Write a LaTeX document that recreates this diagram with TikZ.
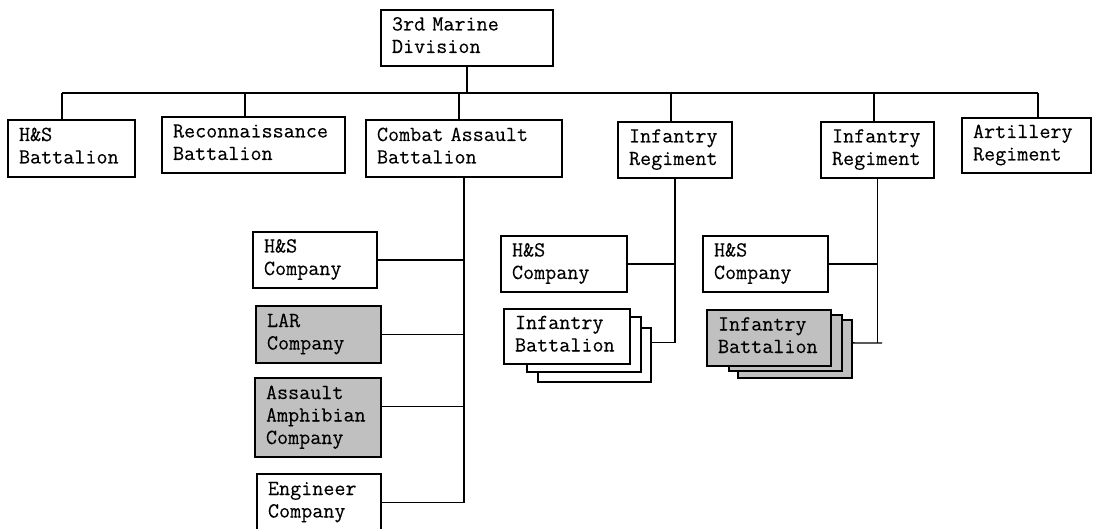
\documentclass[tikz,border=0pt]{standalone}
\usepackage{fontspec}
\newfontfamily\boxfont[FakeBold=0.2]{Latin Modern Mono}
\usetikzlibrary{calc}
\definecolor{boxgray}{RGB}{192,192,192}
\tikzset{
  orgbox/.style={draw=black, line width=1.3pt, fill=white, align=left,
    inner xsep=11pt, inner ysep=0pt, text height=13pt, text depth=28pt,
    font=\boxfont\fontsize{21.5pt}{22.5pt}\selectfont},
  threeline/.style={text depth=50pt},
  shaded/.style={fill=boxgray},
  thickline/.style={line width=2.6pt},
  busline/.style={line width=1.6pt},
  thinline/.style={line width=1.3pt}
}
\newcommand{\orgnode}[7][]{%
  % #1 extra opts, #2 name, #3 left, #4 right, #5 top, #6 bottom, #7 text
  \pgfmathsetmacro{\cxx}{(#3+#4)/2}%
  \pgfmathsetmacro{\cyy}{(#5+#6)/2}%
  \pgfmathsetmacro{\ww}{#4-#3-22}%
  \pgfmathsetmacro{\hh}{#6-#5}%
  \node[orgbox, text width=\ww pt, minimum height=\hh pt, #1] (#2) at (\cxx,\cyy) {#7};%
}
\begin{document}
\begin{tikzpicture}[x=1pt,y=-1pt]
\useasboundingbox[fill=white] (0,0) rectangle (1094,529);

% top level
\orgnode{div}{381}{553}{10}{66}{3rd Marine\\Division}
\orgnode{hsb}{8}{135}{120}{177}{H\&S\\Battalion}
\orgnode{rec}{162}{345}{117}{173}{Reconnaissance\\Battalion}
\orgnode{cab}{366}{562}{120}{177}{Combat Assault\\Battalion}
\orgnode{ir1}{618}{732}{122}{178}{Infantry\\Regiment}
\orgnode{ir2}{821}{934}{122}{178}{Infantry\\Regiment}
\orgnode{art}{962}{1091}{118}{173}{Artillery\\Regiment}

% combat assault battalion companies
\orgnode{hsc1}{253}{377}{232}{288}{H\&S\\Company}
\orgnode[shaded]{lar}{256}{381}{306}{363}{LAR\\Company}
\orgnode[shaded,threeline]{aac}{255}{381}{378}{457}{Assault\\Amphibian\\Company}
\orgnode{eng}{257}{381}{474}{531}{Engineer\\Company}

% infantry regiment 1
\orgnode{hsc2}{501}{627}{236}{292}{H\&S\\Company}
\orgnode{ibac}{538}{651}{328}{382}{}
\orgnode{ibab}{527}{641}{317}{372}{}
\orgnode{iba}{504}{630}{309}{364}{Infantry\\Battalion}

% infantry regiment 2
\orgnode{hsc3}{703}{828}{236}{292}{H\&S\\Company}
\orgnode[shaded]{ibbc}{738}{852}{320}{378}{}
\orgnode[shaded]{ibbb}{729}{842}{315}{371}{}
\orgnode[shaded]{ibb}{707}{831}{310}{366}{Infantry\\Battalion}

% bus
\coordinate (busL) at (62,93);
\coordinate (busR) at (1038,93);
\coordinate (b2) at (245,93);
\coordinate (b3) at (459,93);
\coordinate (b4) at (671,93);
\coordinate (b5) at (874,93);
\draw[busline] (busL) -- (busR);
\draw[thickline] (div.south) -- (div.south |- busL);
\draw[thickline] (busL) -- (busL |- hsb.north);
\draw[thinline] (b2) -- (b2 |- rec.north);
\draw[thickline] (b3) -- (b3 |- cab.north);
\draw[thickline] (b4) -- (b4 |- ir1.north);
\draw[thickline] (b5) -- (b5 |- ir2.north);
\draw[thickline] (busR) -- (busR |- art.north);

% combat assault tree
\draw[thinline] (cab.south) -- (cab.south |- eng.east);
\draw[thinline] (hsc1.east) -- (hsc1.east -| cab.south);
\draw[thinline] (lar.east) -- (lar.east -| cab.south);
\coordinate (aacc) at ($(aac.north east)!0.367!(aac.south east)$);
\draw[thinline] (aacc) -- (aacc -| cab.south);
\draw[thinline] (eng.east) -- (eng.east -| cab.south);

% infantry regiment 1 tree
\coordinate (ibacc) at ($(ibac.north east)!0.28!(ibac.south east)$);
\draw[thinline] (ir1.south) -- (ir1.south |- ibacc);
\draw[thinline] (hsc2.east) -- (hsc2.east -| ir1.south);
\draw[thinline] (ibacc) -- (ibacc -| ir1.south);

% infantry regiment 2 tree
\coordinate (ibbcc) at ($(ibbc.north east)!0.397!(ibbc.south east)$);
\coordinate (tick2) at (882,343);
\draw[thinline] (ir2.south) -- (ir2.south |- ibbcc);
\draw[thinline] (hsc3.east) -- (hsc3.east -| ir2.south);
\draw[thinline] (ibbcc) -- (tick2);
\end{tikzpicture}
\end{document}
